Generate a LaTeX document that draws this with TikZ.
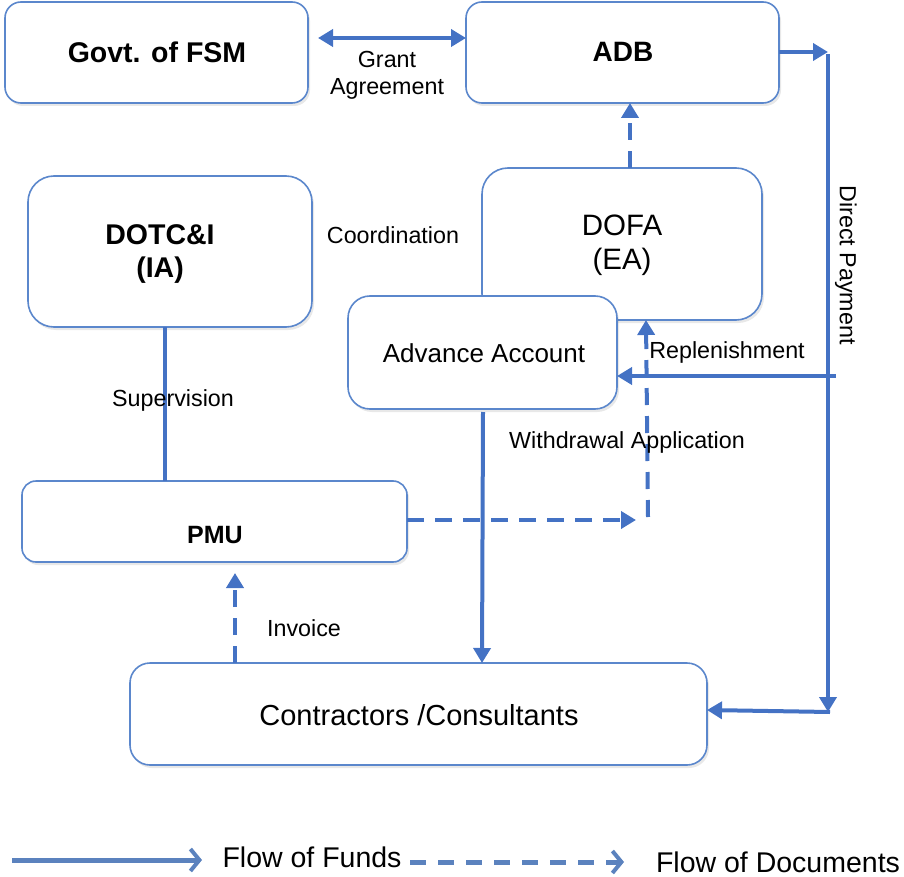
\documentclass[tikz,border=0pt]{standalone}
\usepackage{fontspec}
\setmainfont{Liberation Sans}
\usetikzlibrary{arrows.meta,shadows}
\definecolor{lineblue}{HTML}{4472C4}
\definecolor{boxblue}{HTML}{5B87CC}
\definecolor{legblue}{HTML}{5B82BE}
\tikzset{
  box/.style={draw=boxblue, line width=1.6pt, fill=white, rounded corners=#1,
    drop shadow={opacity=0.18, shadow xshift=2pt, shadow yshift=-3pt}},
  box/.default=16pt,
  tip/.tip={Triangle[length=15pt,width=17pt]},
  fund/.style={draw=lineblue, line width=4pt, -tip},
  doc/.style={draw=lineblue, line width=4pt, dash pattern=on 17pt off 11pt, -tip},
  plain/.style={draw=lineblue, line width=4pt},
  lbl/.style={font=\fontsize{23.3}{27}\selectfont, align=center, inner sep=0pt},
}
\begin{document}
\begin{tikzpicture}[x=1pt,y=-1pt]
\useasboundingbox (0,0) rectangle (904,877);
% boxes
\draw[box] (5,2) rectangle (308,103);
\node[font=\fontsize{28.5}{32}\selectfont\bfseries] (govt) at (157,52) {Govt. of FSM};
\coordinate (govtR) at (308,38);
\draw[box] (466,2) rectangle (779,103);
\node[font=\fontsize{28}{32}\selectfont\bfseries] (adb) at (623,52) {ADB};
\coordinate (adbL) at (466,38);
\coordinate (adbR) at (779,52);
\coordinate (adbB) at (630,103);

\draw[box=26pt] (28,176) rectangle (312,327);
\node[font=\fontsize{28.5}{33}\selectfont\bfseries, align=center] (dotc) at (160,254) {DOTC\&I\\(IA)};
\coordinate (dotcB) at (165,327);

\draw[box=26pt] (482,168) rectangle (762,320);
\node[font=\fontsize{29.5}{34}\selectfont, align=center] (dofa) at (622,245) {DOFA\\(EA)};
\coordinate (dofaT) at (630,168);
\coordinate (dofaB) at (646,320);

\draw[box=22pt] (348,296) rectangle (617,409);
\node[font=\fontsize{26}{30}\selectfont] (adv) at (484,353) {Advance Account};
\coordinate (advR) at (617,376);
\coordinate (advB) at (483,412);

\draw[box=14pt] (22,481) rectangle (407,562);
\node[font=\fontsize{25}{28}\selectfont\bfseries] (pmu) at (215,535) {PMU};
\coordinate (pmuT) at (165,481);
\coordinate (pmuR) at (407,520);
\coordinate (pmuB) at (235,573);

\draw[box=20pt] (130,663) rectangle (707,765);
\node[font=\fontsize{29}{33}\selectfont] (con) at (419,715) {Contractors /Consultants};
\coordinate (conT) at (235,663);
\coordinate (conT2) at (482,663);
\coordinate (conR) at (707,710);

% connectors
\draw[plain, tip-tip] ([xshift=10pt]govtR) -- (adbL);
\node[lbl] (grant) at (387,75) {Grant\\Agreement};

\coordinate (dp1) at (828,52);
\coordinate (dp2) at (828,712);
\draw[fund] (adbR) -- (dp1);
\draw[plain, -tip] ([yshift=-2pt]dp1) -- (dp2);
\draw[fund] ([xshift=2pt]dp2) -- (conR);
\node[lbl, rotate=-90] (dptext) at (846,265) {Direct Payment};

\coordinate (rep) at (836,376);
\draw[fund] (rep) -- (advR);
\node[lbl] (reptext) at (727,352) {Replenishment};

\draw[doc] (dofaT) -- (adbB);

\coordinate (wa1) at (636,520);
\coordinate (wa2) at (648,517);
\draw[doc] (pmuR) -- (wa1);
\draw[doc] (wa2) -- (dofaB);
\node[lbl] (watext) at (627,442) {Withdrawal Application};

\draw[fund] (advB) -- (conT2);
\draw[plain] (dotcB) -- (pmuT);
\node[lbl] (sup) at (173,400) {Supervision};

\draw[doc] (conT) -- (pmuB);
\node[lbl] (inv) at (304,628) {Invoice};

\node[lbl] (coord) at (393,235) {Coordination};

% legend
\coordinate (l1a) at (12,860);
\coordinate (l1b) at (202,860);
\coordinate (l2a) at (410,862);
\coordinate (l2b) at (624,862);
\draw[draw=legblue, line width=5pt, -{Straight Barb[length=9pt,width=22pt,line width=4pt]}] (l1a) -- (l1b);
\node[font=\fontsize{28.5}{32}\selectfont] (leg1) at (312,857) {Flow of Funds};
\draw[draw=legblue, line width=5pt, dash pattern=on 16pt off 12pt, -{Straight Barb[length=9pt,width=22pt,line width=4pt]}] (l2a) -- (l2b);
\node[font=\fontsize{28.5}{32}\selectfont] (leg2) at (778,862) {Flow of Documents};
\end{tikzpicture}
\end{document}
